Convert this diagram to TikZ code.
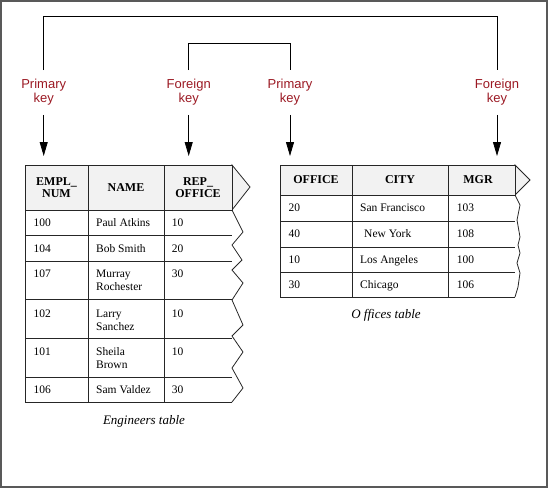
\documentclass[tikz,border=0pt]{standalone}
\usepackage{fontspec}
\setmainfont{Liberation Serif}
\newfontfamily\labfont{Liberation Sans}
\usetikzlibrary{arrows.meta}
\definecolor{labred}{RGB}{155,25,35}
\definecolor{hdrfill}{RGB}{242,242,242}
\begin{document}
\begin{tikzpicture}[x=1pt,y=-1pt,
  lab/.style={font=\labfont\fontsize{13}{14}\selectfont, text=labred, align=center, inner xsep=2pt, inner ysep=9pt},
  conn/.style={line width=0.8pt},
  arr/.style={line width=0.8pt, -{Triangle[length=14pt,width=8pt]}, shorten >=9pt},
  grid/.style={line width=0.8pt, draw=black!85},
  cell/.style={font=\fontsize{11.5}{13.4}\selectfont, anchor=base west, align=left, inner sep=0pt},
  hcell/.style={font=\bfseries\fontsize{12}{12.6}\selectfont, align=center, inner sep=0pt},
  tcaption/.style={font=\itshape\fontsize{13}{15}\selectfont, inner sep=0pt}]
\useasboundingbox (0,0) rectangle (548,488);
\draw[line width=2pt, draw=black!65] (1,1) rectangle (547,487);

% ---------- Engineers table ----------
\coordinate (etop) at (25,165);
\filldraw[grid, fill=hdrfill] (232,165) -- (250,187) -- (232,210) -- cycle;
\filldraw[grid, fill=hdrfill] (25,165) rectangle (232,210);
\draw[grid] (25,210) -- (25,402) -- (232,402);
\draw[grid] (232,210) -- (243,232) -- (232,245) -- (242,260) -- (232,270) -- (243,283) -- (232,300)
  -- (243,325) -- (232,336) -- (243,352) -- (232,368) -- (243,388) -- (232,402);
\foreach \yy in {235,261,299,338,377} \draw[grid] (25,\yy) -- (232,\yy);
\draw[grid] (88,165) -- (88,402);
\draw[grid] (164,165) -- (164,402);

\node[hcell] (eh1) at (56.5,187.5) {EMPL\_\\NUM};
\node[hcell] (eh2) at (126,187.5) {NAME};
\node[hcell] (eh3) at (198,187.5) {REP\_\\OFFICE};

% (base anchor of a two-line cell is the baseline of its second line)
\node[cell] (e11) at (33.3,226.1) {100};
\node[cell] (e12) at (96,226.1) {Paul Atkins};
\node[cell] (e13) at (171.7,226.1) {10};
\node[cell] (e21) at (33.3,252.1) {104};
\node[cell] (e22) at (96,252.1) {Bob Smith};
\node[cell] (e23) at (171.7,252.1) {20};
\node[cell] (e31) at (33.3,277.1) {107};
\node[cell] (e32) at (96,290.5) {Murray\\Rochester};
\node[cell] (e33) at (171.7,277.1) {30};
\node[cell] (e41) at (33.3,317.1) {102};
\node[cell] (e42) at (96,330.5) {Larry\\Sanchez};
\node[cell] (e43) at (171.7,317.1) {10};
\node[cell] (e51) at (33.3,355.5) {101};
\node[cell] (e52) at (96,368.9) {Sheila\\Brown};
\node[cell] (e53) at (171.7,355.5) {10};
\node[cell] (e61) at (33.3,393.8) {106};
\node[cell] (e62) at (96,393.8) {Sam Valdez};
\node[cell] (e63) at (171.7,393.8) {30};

\node[tcaption] (ecap) at (144,421) {Engineers table};

% ---------- Offices table ----------
\coordinate (otop) at (280,165);
\filldraw[grid, fill=hdrfill] (515,165) -- (530,180) -- (515,195) -- cycle;
\filldraw[grid, fill=hdrfill] (280,165) rectangle (515,195);
\draw[grid] (280,195) -- (280,297) -- (515,297);
\draw[grid] (515,195) -- (520,205) -- (517,220) -- (520,237) -- (518,245) -- (520,253) -- (517,263)
  -- (520,273) -- (518,287) -- (515,297);
\foreach \yy in {221,247,272} \draw[grid] (280,\yy) -- (515,\yy);
\draw[grid] (352,165) -- (352,297);
\draw[grid] (448,165) -- (448,297);

\node[hcell] (oh1) at (316,180) {OFFICE};
\node[hcell] (oh2) at (400,180) {CITY};
\node[hcell] (oh3) at (478,180) {MGR};

\node[cell] (o11) at (288.3,211.8) {20};
\node[cell] (o12) at (360,211.8) {San Francisco};
\node[cell] (o13) at (456.7,211.8) {103};
\node[cell] (o21) at (288.3,237.8) {40};
\node[cell] (o22) at (364,237.8) {New York};
\node[cell] (o23) at (456.7,237.8) {108};
\node[cell] (o31) at (288.3,263.5) {10};
\node[cell] (o32) at (360,263.5) {Los Angeles};
\node[cell] (o33) at (456.7,263.5) {100};
\node[cell] (o41) at (288.3,288.8) {30};
\node[cell] (o42) at (360,288.8) {Chicago};
\node[cell] (o43) at (456.7,288.8) {106};

\node[tcaption] (ocap) at (386,315) {O ffices table};

% ---------- Key labels and connectors ----------
\node[lab] (pk1) at (43.7,92.5) {Primary\\key};
\node[lab] (fk1) at (188.7,92.5) {Foreign\\key};
\node[lab] (pk2) at (290,92.5) {Primary\\key};
\node[lab] (fk2) at (497,92.5) {Foreign\\key};

\draw[conn] (pk1.north) -- (pk1.north |- 0,16) -- (fk2.north |- 0,16) -- (fk2.north);
\draw[conn] (fk1.north) -- (fk1.north |- 0,43) -- (pk2.north |- 0,43) -- (pk2.north);

\draw[arr] (pk1.south) -- (pk1.south |- etop);
\draw[arr] (fk1.south) -- (fk1.south |- etop);
\draw[arr] (pk2.south) -- (pk2.south |- otop);
\draw[arr] (fk2.south) -- (fk2.south |- otop);
\end{tikzpicture}
\end{document}
